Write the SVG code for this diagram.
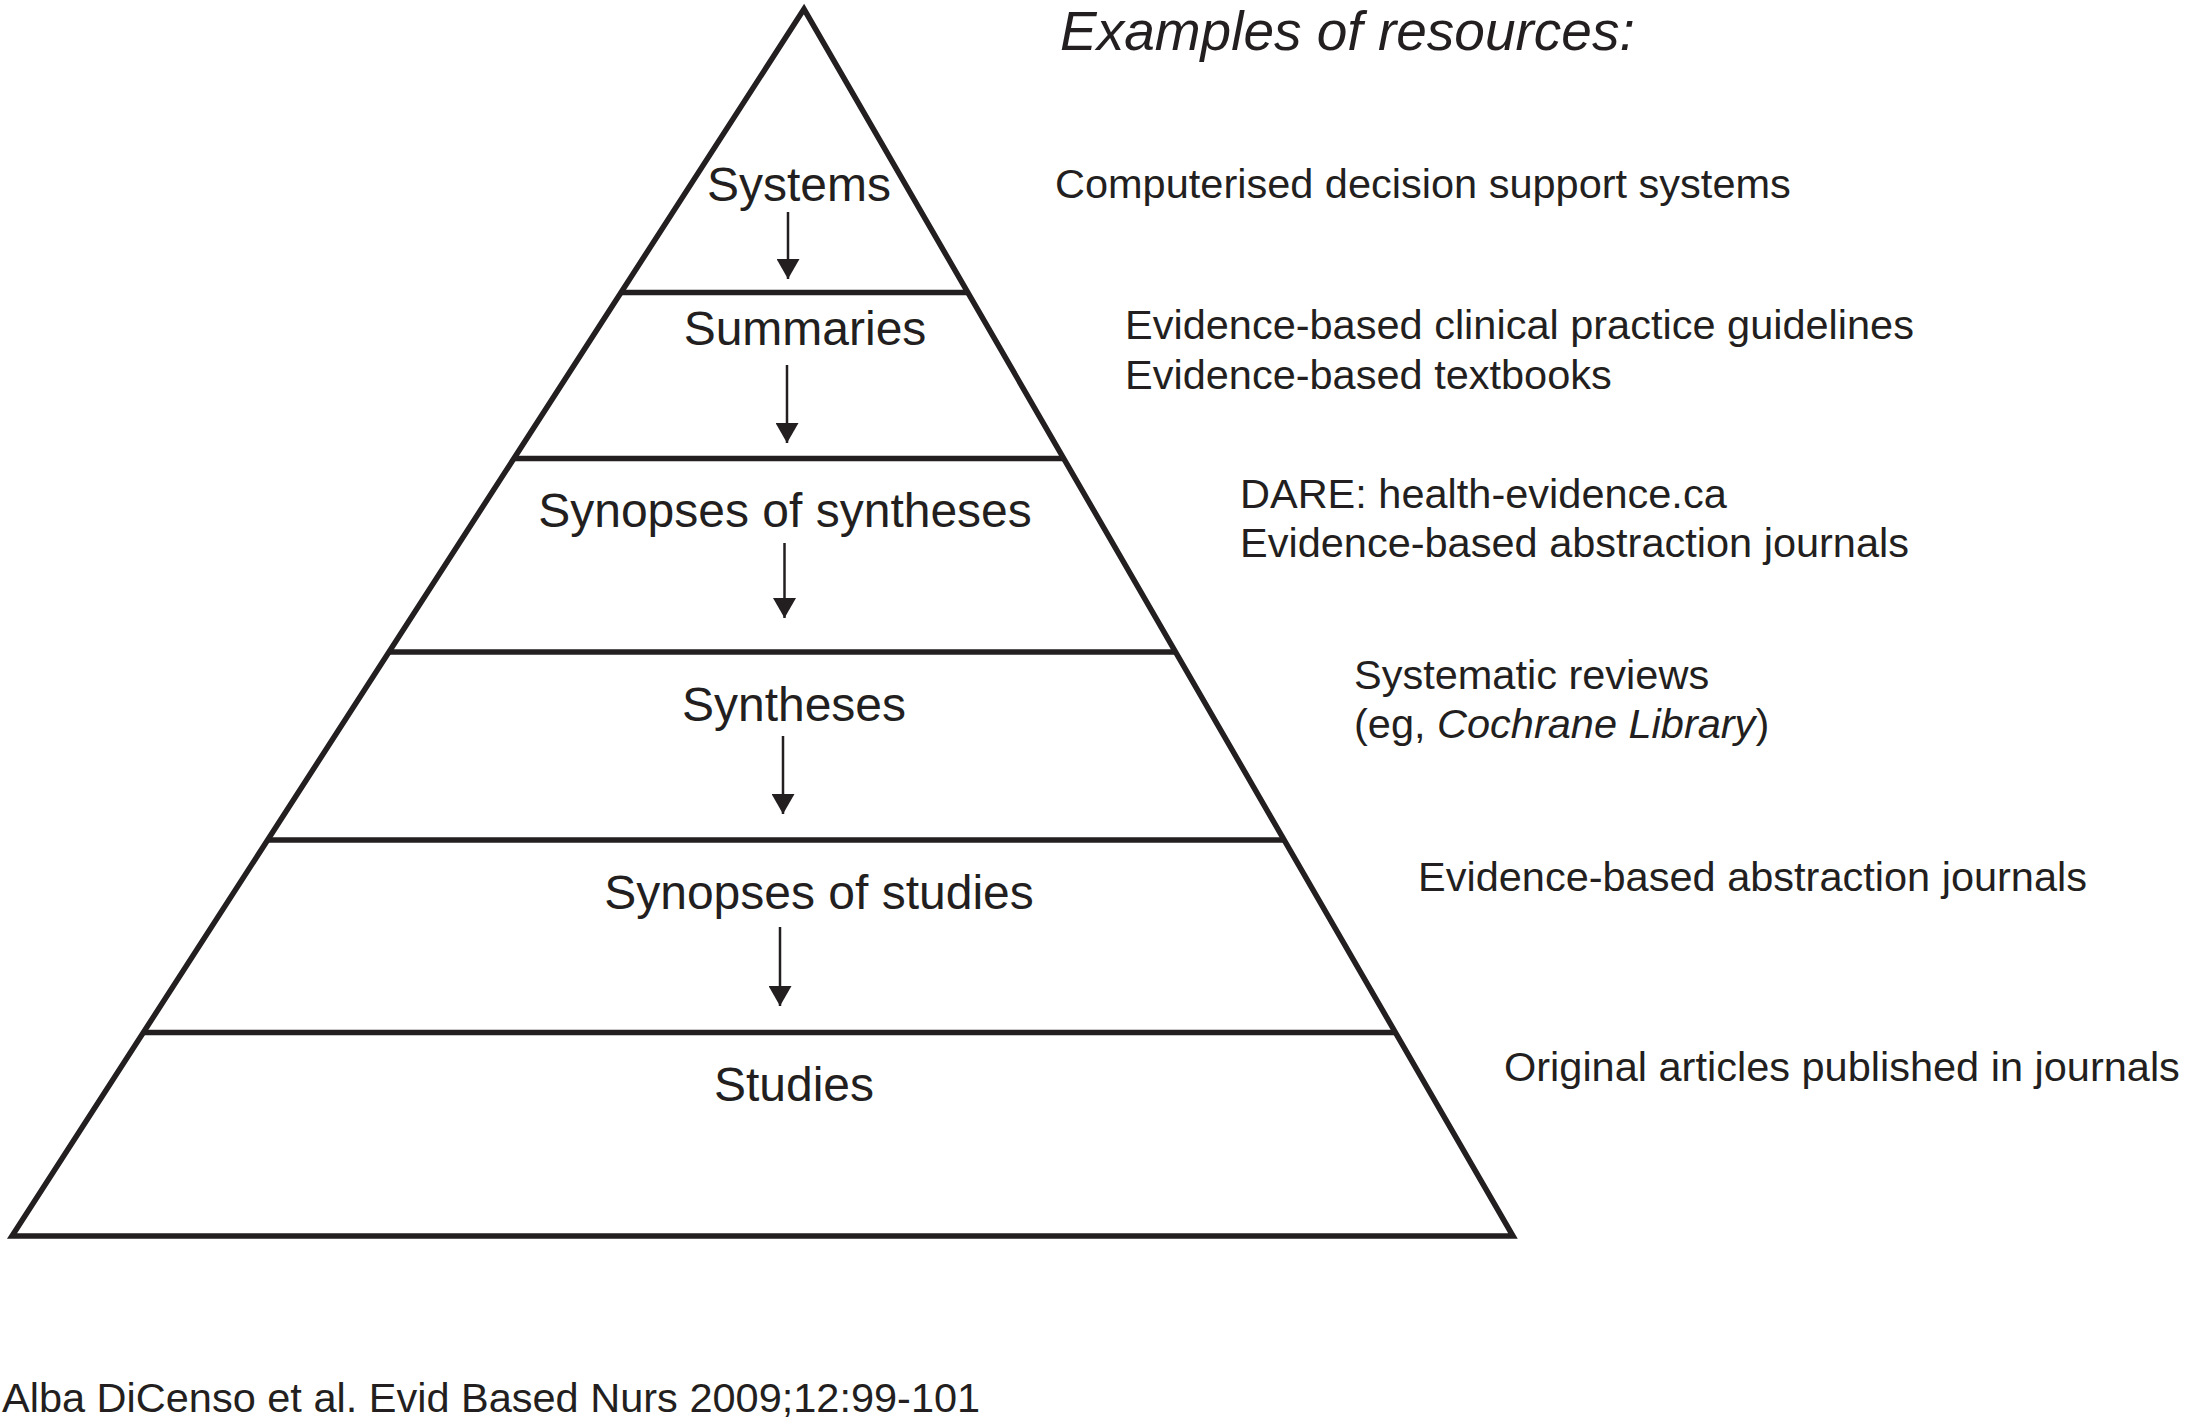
<svg xmlns="http://www.w3.org/2000/svg" width="2185" height="1423" viewBox="0 0 2185 1423">
  <style>
    .edge { fill: none; stroke: #231f20; stroke-width: 5.5; stroke-linejoin: miter; }
    .tier { stroke: #231f20; stroke-width: 5.5; }
    .lbl { font-family: "Liberation Sans", Arial, sans-serif; font-size: 48px; fill: #231f20; text-anchor: middle; }
    .res { font-family: "Liberation Sans", Arial, sans-serif; font-size: 41.5px; fill: #231f20; }
    .title { font-family: "Liberation Sans", Arial, sans-serif; font-size: 55px; font-style: italic; fill: #231f20; }
    .arrow { stroke: #231f20; stroke-width: 2.5; fill: none; marker-end: url(#head); }
  </style>
  <defs>
    <marker id="head" markerUnits="userSpaceOnUse" markerWidth="21" markerHeight="23" refX="20" refY="11.5" orient="auto">
      <path d="M0,0 L20,11.5 L0,23 Z" fill="#231f20"/>
    </marker>
  </defs>
  <rect width="2185" height="1423" fill="#ffffff"/>

  <g id="pyramid">
    <polygon class="edge" points="804,9 12,1236 1513,1236"/>
  </g>

  <g id="tier-systems">
    <text class="lbl" x="799" y="201">Systems</text>
  </g>
  <g id="tier-summaries">
    <line class="tier" x1="621" y1="292.5" x2="968" y2="292.5"/>
    <text class="lbl" x="805" y="345">Summaries</text>
  </g>
  <g id="tier-synopses-syntheses">
    <line class="tier" x1="514" y1="458.5" x2="1064" y2="458.5"/>
    <text class="lbl" x="785" y="527">Synopses of syntheses</text>
  </g>
  <g id="tier-syntheses">
    <line class="tier" x1="389" y1="652" x2="1175" y2="652"/>
    <text class="lbl" x="794" y="721">Syntheses</text>
  </g>
  <g id="tier-synopses-studies">
    <line class="tier" x1="268" y1="840" x2="1284" y2="840"/>
    <text class="lbl" x="819" y="909">Synopses of studies</text>
  </g>
  <g id="tier-studies">
    <line class="tier" x1="143" y1="1032.5" x2="1395" y2="1032.5"/>
    <text class="lbl" x="794" y="1101">Studies</text>
  </g>

  <g id="connectors">
    <line class="arrow" x1="788" y1="212" x2="788" y2="279"/>
    <line class="arrow" x1="787" y1="365" x2="787" y2="443"/>
    <line class="arrow" x1="784.5" y1="543" x2="784.5" y2="618"/>
    <line class="arrow" x1="783" y1="736" x2="783" y2="814"/>
    <line class="arrow" x1="780" y1="927" x2="780" y2="1006"/>
  </g>

  <g id="resources">
    <text class="title" x="1060" y="50">Examples of resources:</text>
    <text class="res" x="1055" y="198">Computerised decision support systems</text>
    <text class="res" x="1125" y="339">Evidence-based clinical practice guidelines</text>
    <text class="res" x="1125" y="389">Evidence-based textbooks</text>
    <text class="res" x="1240" y="508">DARE: health-evidence.ca</text>
    <text class="res" x="1240" y="557">Evidence-based abstraction journals</text>
    <text class="res" x="1354" y="689">Systematic reviews</text>
    <text class="res" x="1354" y="738">(eg, <tspan font-style="italic">Cochrane Library</tspan>)</text>
    <text class="res" x="1418" y="891">Evidence-based abstraction journals</text>
    <text class="res" x="1504" y="1081">Original articles published in journals</text>
  </g>

  <g id="citation">
    <text class="res" x="2" y="1412">Alba DiCenso et al. Evid Based Nurs 2009;12:99-101</text>
  </g>
</svg>
